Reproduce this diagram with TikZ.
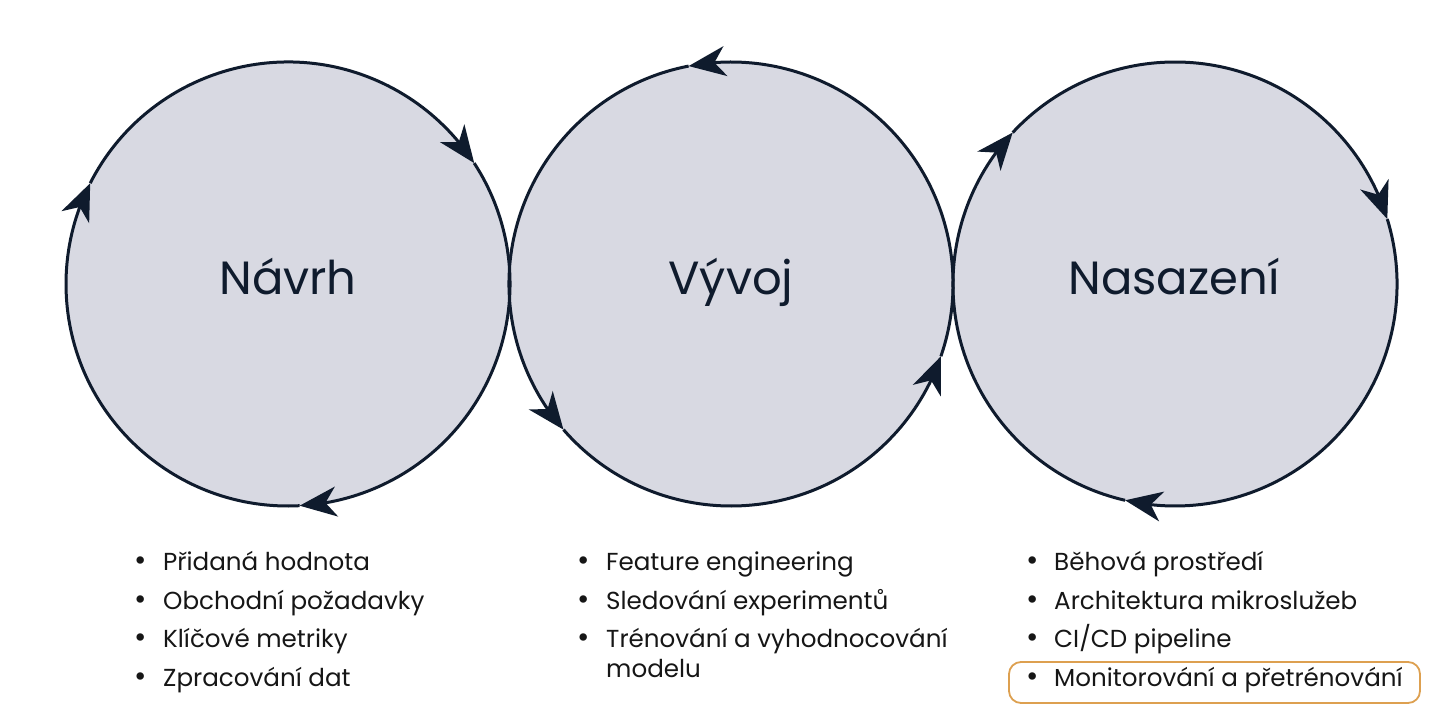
\documentclass[tikz,border=0pt]{standalone}
\usepackage{fontspec}
\setmainfont{Poppins}
\usetikzlibrary{arrows.meta,bending}
\definecolor{ink}{HTML}{0F1B2D}
\definecolor{discc}{HTML}{D8D9E2}
\definecolor{txt}{HTML}{161616}
\definecolor{hl}{HTML}{DDA050}
\begin{document}
\begin{tikzpicture}[x=1pt,y=1pt,
  disc/.style={circle, fill=discc, minimum size=444pt, inner sep=0pt, outer sep=0pt},
  title/.style={anchor=base, font=\fontsize{46.5}{50}\selectfont, text=ink, inner sep=0pt},
  flow/.style={line width=3pt, draw=ink, -{Stealth[length=37pt,width=30pt,inset=11pt]}},
  item/.style={anchor=base west, font=\fontsize{24.6}{30}\selectfont, text=txt, inner sep=0pt},
  dot/.style={anchor=base, font=\fontsize{30}{30}\selectfont, text=txt, inner sep=0pt},
  hlbox/.style={draw=hl, line width=1.8pt, rounded corners=12pt}
]
\fill[white] (0,0) rectangle (1440,720);
\useasboundingbox (0,0) rectangle (1440,720);

% discs
\node[disc] (c1) at (288,436) {};
\node[disc] (c2) at (731,436) {};
\node[disc] (c3) at (1175,436) {};

% circle 1, clockwise
\draw[flow] ([shift={(153:222)}]c1.center) arc[start angle=153, end angle=33, radius=222];
\draw[flow] ([shift={(33:222)}]c1.center) arc[start angle=33, end angle=-87, radius=222];
\draw[flow] ([shift={(-87:222)}]c1.center) arc[start angle=-87, end angle=-207, radius=222];
% circle 2, counter-clockwise
\draw[flow] ([shift={(-19:222)}]c2.center) arc[start angle=-19, end angle=101, radius=222];
\draw[flow] ([shift={(101:222)}]c2.center) arc[start angle=101, end angle=221, radius=222];
\draw[flow] ([shift={(221:222)}]c2.center) arc[start angle=221, end angle=341, radius=222];
% circle 3, clockwise
\draw[flow] ([shift={(137:222)}]c3.center) arc[start angle=137, end angle=17, radius=222];
\draw[flow] ([shift={(17:222)}]c3.center) arc[start angle=17, end angle=-103, radius=222];
\draw[flow] ([shift={(-103:222)}]c3.center) arc[start angle=-103, end angle=-223, radius=222];

% titles
\node[title] (t1) at (288,425) {Návrh};
\node[title] (t2) at (731,425) {Vývoj};
\node[title] (t3) at (1174,425) {Nasazení};

% list 1
\node[dot] (d1a) at (141,149) {•};
\node[item] (i1a) at (163,149) {Přidaná hodnota};
\node[dot] (d1b) at (141,110) {•};
\node[item] (i1b) at (163,110) {Obchodní požadavky};
\node[dot] (d1c) at (141,72) {•};
\node[item] (i1c) at (163,72) {Klíčové metriky};
\node[dot] (d1d) at (141,33) {•};
\node[item] (i1d) at (163,33) {Zpracování dat};

% list 2
\node[dot] (d2a) at (584,149) {•};
\node[item] (i2a) at (606,149) {Feature engineering};
\node[dot] (d2b) at (584,110) {•};
\node[item] (i2b) at (606,110) {Sledování experimentů};
\node[dot] (d2c) at (584,72) {•};
\node[item] (i2c) at (606,72) {Trénování a vyhodnocování};
\node[item] (i2d) at (606,42) {modelu};

% list 3
\node[dot] (d3a) at (1033,149) {•};
\node[item] (i3a) at (1054,149) {Běhová prostředí};
\node[dot] (d3b) at (1033,110) {•};
\node[item] (i3b) at (1054,110) {Architektura mikroslužeb};
\node[dot] (d3c) at (1033,72) {•};
\node[item] (i3c) at (1054,72) {CI/CD pipeline};
\node[dot] (d3d) at (1033,33) {•};
\node[item] (i3d) at (1054,33) {Monitorování a přetrénování};
\draw[hlbox] (1009,17) rectangle (1420,58);
\end{tikzpicture}
\end{document}
